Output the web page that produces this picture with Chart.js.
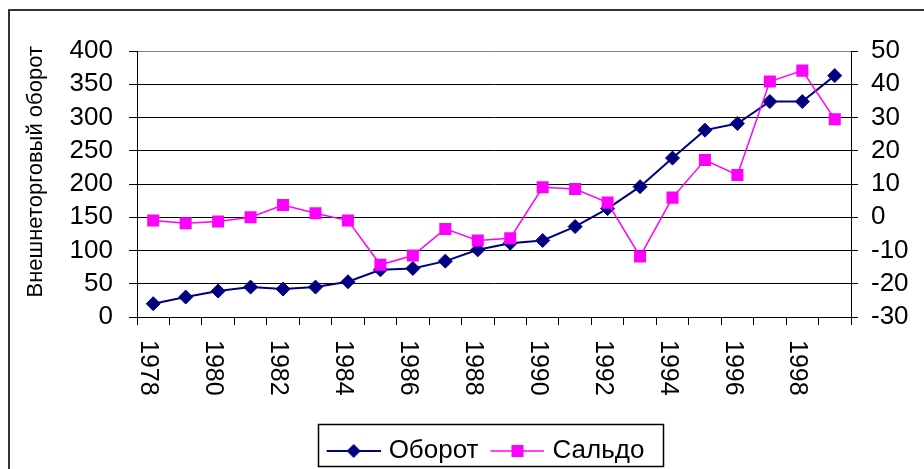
<!DOCTYPE html>
<html>
<head>
<meta charset="utf-8">
<script src="https://cdn.jsdelivr.net/npm/chart.js@4.4.0/dist/chart.umd.min.js"></script>
<style>
  html, body { margin: 0; padding: 0; background: #fff; }
</style>
</head>
<body>
<canvas id="grafico" width="924" height="469"></canvas>
<script>
var years = ['1978', '1979', '1980', '1981', '1982', '1983', '1984', '1985', '1986', '1987', '1988',
             '1989', '1990', '1991', '1992', '1993', '1994', '1995', '1996', '1997', '1998', '1999'];
var oborot = [20, 30, 39, 45, 42, 45, 53, 71, 73, 84, 101, 111, 115, 136, 163, 196, 239, 281, 291, 324, 324, 363];
var saldo = [-1, -1.8, -1.3, 0, 3.7, 1.2, -1, -14.3, -11.5, -3.5, -7, -6.3, 9, 8.5, 4.4, -11.8, 5.9, 17.2, 12.7, 40.8, 44.1, 29.5];
var xTickLabels = ['1978', '1980', '1982', '1984', '1986', '1988', '1990', '1992', '1994', '1996', '1998'];
var yLeftTicks = [0, 50, 100, 150, 200, 250, 300, 350, 400];
var yRightTicks = [-30, -20, -10, 0, 10, 20, 30, 40, 50];

Chart.defaults.font.family = '"Liberation Sans", Arial, sans-serif';
Chart.defaults.color = '#000';

// legend icon: line with marker in the middle, like Excel
function legendIcon(color, shape, lw) {
    var c = document.createElement('canvas');
    c.width = 68; c.height = 20;
    var g = c.getContext('2d');
    g.strokeStyle = color;
    g.lineWidth = lw;
    g.beginPath();
    g.moveTo(14, 10);
    g.lineTo(68, 10);
    g.stroke();
    g.fillStyle = color;
    g.beginPath();
    if (shape === 'diamond') {
        g.moveTo(34, 10); g.lineTo(41, 3); g.lineTo(48, 10); g.lineTo(41, 17);
        g.closePath();
    } else {
        g.rect(35, 4, 12, 12);
    }
    g.fill();
    return c;
}
var icons = [legendIcon('#000080', 'diamond', 2), legendIcon('#FF00FF', 'square', 1.5)];

var excelLook = {
    id: 'excelLook',
    beforeDraw: function (chart) {
        var ctx = chart.ctx;
        ctx.save();
        ctx.fillStyle = '#fff';
        ctx.fillRect(0, 0, chart.width, chart.height);
        ctx.strokeStyle = '#333';
        ctx.lineWidth = 2;
        ctx.beginPath();
        ctx.moveTo(9, chart.height);
        ctx.lineTo(9, 10);
        ctx.lineTo(chart.width, 10);
        ctx.stroke();
        ctx.restore();
    },
    afterLayout: function (chart) {
        // legend sits a bit right of centre and lower, as in the original
        chart.legend.left += 15;
        chart.legend.right += 15;
        chart.legend.top += 5;
        chart.legend.bottom += 5;
    },
    afterDraw: function (chart) {
        var ctx = chart.ctx;
        var xs = chart.scales.x;
        ctx.save();
        ctx.fillStyle = '#000';
        ctx.font = '25px "Liberation Sans", Arial, sans-serif';
        ctx.textAlign = 'left';
        ctx.textBaseline = 'middle';
        xTickLabels.forEach(function (lab) {
            var x = xs.getPixelForValue(years.indexOf(lab));
            ctx.save();
            ctx.translate(x - 5, 340);
            ctx.rotate(Math.PI / 2);
            ctx.fillText(lab, 0, 0);
            ctx.restore();
        });
        // legend frame
        var hb = chart.legend.legendHitBoxes;
        if (hb && hb.length) {
            var last = hb[hb.length - 1];
            var l = hb[0].left;
            var r = last.left + last.width + 18;
            ctx.strokeStyle = '#000';
            ctx.lineWidth = 1.5;
            ctx.strokeRect(Math.round(l) + 0.5, Math.round(chart.legend.top) - 11 + 0.5, Math.round(r - l), 42);
        }
        ctx.restore();
    }
};

var ctx = document.getElementById('grafico').getContext('2d');
var myChart = new Chart(ctx, {
    type: 'line',
    data: {
        labels: years,
        datasets: [{
            label: 'Оборот',
            data: oborot,
            yAxisID: 'y',
            order: 1,
            borderColor: '#000080',
            backgroundColor: '#000080',
            borderWidth: 2,
            pointStyle: 'rectRot',
            pointRadius: 7,
            pointBorderWidth: 1,
            tension: 0
        }, {
            label: 'Сальдо',
            data: saldo,
            yAxisID: 'y1',
            order: 0,
            borderColor: '#FF00FF',
            backgroundColor: '#FF00FF',
            borderWidth: 1.5,
            pointStyle: 'rect',
            pointRadius: 8.5,
            pointBorderWidth: 0,
            tension: 0
        }]
    },
    options: {
        responsive: false,
        animation: false,
        layout: { padding: { left: 8, top: 51, right: 0, bottom: 0 } },
        plugins: {
            tooltip: { enabled: false },
            legend: {
                position: 'bottom',
                labels: {
                    usePointStyle: true,
                    pointStyleWidth: 58,
                    padding: 3,
                    color: '#000',
                    font: { size: 26, lineHeight: 1 },
                    generateLabels: function (chart) {
                        var items = Chart.defaults.plugins.legend.labels.generateLabels(chart);
                        items.sort(function (a, b) { return a.datasetIndex - b.datasetIndex; });
                        items.forEach(function (it) { it.pointStyle = icons[it.datasetIndex]; });
                        return items;
                    }
                }
            }
        },
        scales: {
            x: {
                offset: true,
                grid: { offset: true, drawOnChartArea: false, tickLength: 8, color: '#000' },
                border: { color: '#000', width: 1 },
                ticks: { display: false, autoSkip: false },
                afterFit: function (s) { s.height = 113; }
            },
            y: {
                position: 'left',
                min: 0,
                max: 400,
                afterBuildTicks: function (s) { s.ticks = yLeftTicks.map(function (v) { return { value: v }; }); },
                afterFit: function (s) { s.width = 129; },
                ticks: { font: { size: 26 }, color: '#000', padding: 16, autoSkip: false },
                grid: {
                    color: function (c) { return c.tick && c.tick.value === 400 ? '#808080' : '#000'; },
                    lineWidth: 1,
                    tickLength: 8,
                    tickColor: '#000'
                },
                border: { color: '#000', width: 1 },
                title: {
                    display: true,
                    text: '    Внешнеторговый оборот',
                    font: { size: 22 },
                    color: '#000',
                    padding: { top: 15, bottom: 0 }
                }
            },
            y1: {
                position: 'right',
                min: -30,
                max: 50,
                afterBuildTicks: function (s) { s.ticks = yRightTicks.map(function (v) { return { value: v }; }); },
                afterFit: function (s) { s.width = 73; },
                ticks: { font: { size: 26 }, color: '#000', padding: 13, autoSkip: false },
                grid: { drawOnChartArea: false, tickLength: 7, color: '#000' },
                border: { color: '#000', width: 1 }
            }
        }
    },
    plugins: [excelLook]
});
</script>
</body>
</html>
